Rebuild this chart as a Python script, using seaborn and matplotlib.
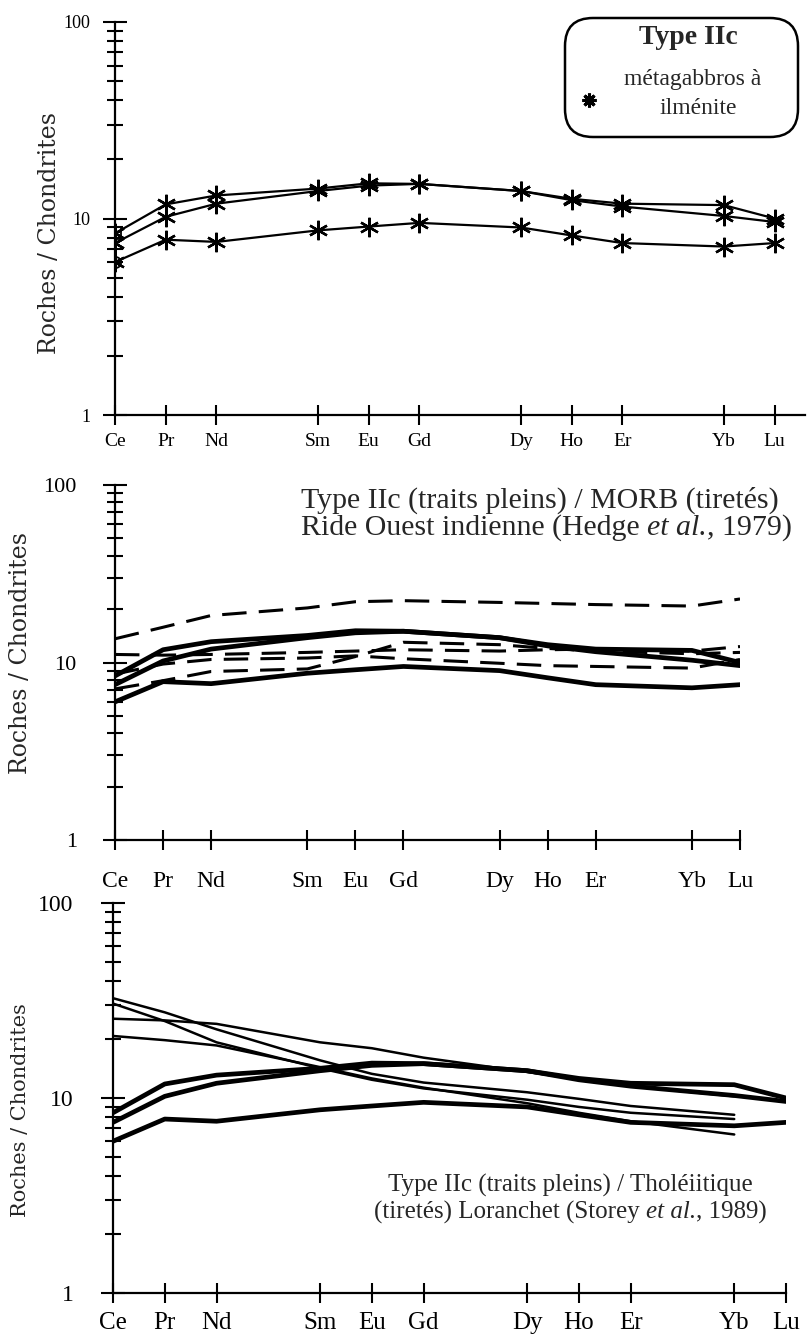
import numpy as np
import pandas as pd
import matplotlib
matplotlib.use("Agg")
import matplotlib.pyplot as plt
import seaborn as sns
from matplotlib.patches import FancyBboxPatch
from matplotlib.lines import Line2D
from matplotlib.ticker import NullFormatter

# REE positions (Pm, Tb, Tm left out, as in the original diagrams)
elements = ["Ce", "Pr", "Nd", "Sm", "Eu", "Gd", "Dy", "Ho", "Er", "Yb", "Lu"]
positions = [0, 1, 2, 4, 5, 6, 8, 9, 10, 12, 13]

# Type IIc metagabbros (normalised to chondrites)
iic_a = [8.4, 11.8, 13.1, 14.2, 15.1, 15.0, 13.8, 12.6, 11.9, 11.7, 10.0]
iic_b = [7.5, 10.2, 11.9, 13.8, 14.7, 15.0, 13.8, 12.4, 11.5, 10.3, 9.6]
iic_c = [6.0, 7.8, 7.6, 8.7, 9.1, 9.5, 9.0, 8.2, 7.5, 7.2, 7.5]

# MORB, West Indian ridge (Hedge et al., 1979)
morb_1 = [13.6, 15.8, 18.4, 20.3, 22.0, 22.3, 21.8, 21.5, 21.2, 20.8, 22.8]
morb_2 = [11.1, 11.0, 11.1, 11.4, 11.6, 11.8, 11.6, 11.8, 11.9, 11.6, 12.3]
morb_3 = [8.6, 9.8, 10.4, 10.6, 10.9, 10.5, 9.9, 9.6, 9.5, 9.3, 10.4]
morb_4 = [7.1, 7.9, 8.9, 9.2, 10.8, 13.0, 12.6, 12.0, 11.6, 11.2, 11.4]

# Loranchet tholeiites (Storey et al., 1989), Ce..Yb
lor_1 = [32.5, 27.5, 22.5, 15.6, 13.3, 12.0, 10.7, 9.9, 9.1, 8.2]
lor_2 = [30.5, 24.8, 19.3, 14.2, 12.4, 11.2, 9.8, 9.0, 8.4, 7.8]
lor_3 = [25.5, 25.0, 24.0, 19.3, 18.0, 16.1, 13.6, 12.5, 11.5, 10.2]
lor_4 = [20.8, 19.8, 18.6, 14.4, 12.6, 11.3, 9.4, 8.4, 7.6, 6.5]

sns.set_style("ticks")
plt.rcParams['font.family'] = ['Liberation Serif', 'DejaVu Serif']

W, H = 811, 1335
fig = plt.figure(figsize=(W / 100, H / 100), dpi=100)
renderer = fig.canvas.get_renderer()


def px_axes(left, right, top, bottom):
    return fig.add_axes([left / W, 1 - bottom / H, (right - left) / W, (bottom - top) / H])


def mixed_line(x_px, y_px, parts, fs, ha='left'):
    # write a line made of roman / italic pieces side by side
    widths = []
    for s, st in parts:
        t = fig.text(0, 0, s, fontsize=fs, style=st)
        widths.append(t.get_window_extent(renderer).width)
        t.remove()
    x = x_px - (sum(widths) / 2 if ha == 'center' else 0)
    for (s, st), w in zip(parts, widths):
        fig.text(x / W, 1 - y_px / H, s, fontsize=fs, style=st, ha='left', va='center')
        x += w


def setup(ax, xmax, ytick_fs, xtick_fs, ypad, xpad, ylabel_xy, ylabel_fs):
    ax.set_yscale('log')
    ax.set_ylim(1, 100)
    ax.set_xlim(0, xmax)
    sns.despine(ax=ax)
    for s in ['left', 'bottom']:
        ax.spines[s].set_linewidth(1.6)
        ax.spines[s].set_color('k')
    ax.spines['bottom'].set_bounds(0, min(xmax, 13.6))
    ax.set_xticks(positions, elements)
    ax.set_yticks([1, 10, 100], ['1', '10', '100'])
    minor = [m * d for d in (1, 10) for m in range(2, 10)]
    ax.set_yticks(minor, minor=True)
    ax.yaxis.set_minor_formatter(NullFormatter())
    ax.tick_params(axis='both', which='both', direction='inout', width=1.5, colors='k')
    ax.tick_params(axis='y', which='major', length=17, pad=ypad, labelsize=ytick_fs)
    ax.tick_params(axis='y', which='minor', length=12)
    ax.tick_params(axis='x', length=14, pad=xpad, labelsize=xtick_fs)
    ax.patch.set_alpha(0)
    ax.grid(False)
    fig.text(ylabel_xy[0] / W, 1 - ylabel_xy[1] / H, 'Roches / Chondrites', rotation=90,
             ha='center', va='center', fontsize=ylabel_fs, family='DejaVu Serif')


# ---------- top panel ----------
ax1 = px_axes(115, 805, 22, 415)
star = (6, 2, 0)
for vals in [iic_a, iic_b, iic_c]:
    sns.lineplot(x=positions, y=vals, ax=ax1, color='k', lw=1.6, marker=star,
                 markersize=14, markeredgecolor='k', markeredgewidth=1.7)
sns.lineplot(x=positions[:1], y=iic_a[:1], ax=ax1, marker='s', markersize=8, color='k',
             markerfacecolor='none', markeredgecolor='k', markeredgewidth=1.3, lw=0)
sns.lineplot(x=positions[:1], y=iic_c[:1], ax=ax1, marker='o', markersize=8, color='k',
             markerfacecolor='none', markeredgecolor='k', markeredgewidth=1.3, lw=0)
setup(ax1, 13.6, 13, 14, 9, 6, (50, 233), 17)

box = FancyBboxPatch((5.65, 11.98), 2.33, 1.19, boxstyle="round,pad=0,rounding_size=0.28",
                     transform=fig.dpi_scale_trans, fc='white', ec='k', lw=1.8)
fig.add_artist(box)
fig.text(688 / W, 1 - 37 / H, 'Type IIc', ha='center', va='center', fontsize=20, weight='bold')
fig.text(693 / W, 1 - 80 / H, 'métagabbros à', ha='center', va='center', fontsize=17)
fig.text(698 / W, 1 - 109 / H, 'ilménite', ha='center', va='center', fontsize=17)
fig.add_artist(Line2D([589 / W], [1 - 100 / H], transform=fig.transFigure, marker=(8, 2, 0),
                      markersize=10, markeredgewidth=2.2, color='k', lw=0))

# ---------- middle panel ----------
ax2 = px_axes(115, 740, 485, 840)
for vals in [morb_1, morb_2, morb_3, morb_4]:
    sns.lineplot(x=positions, y=vals, ax=ax2, color='k', lw=2.2, linestyle=(0, (8, 4)))
for vals in [iic_a, iic_b, iic_c]:
    sns.lineplot(x=positions, y=vals, ax=ax2, color='k', lw=3.4)
setup(ax2, 13, 16, 17, 19, 15, (21, 653), 17)
mixed_line(301, 500, [('Type IIc (traits pleins) / MORB (tiretés)', 'normal')], 21.5)
mixed_line(301, 528, [('Ride Ouest indienne (Hedge ', 'normal'), ('et al.', 'italic'),
                      (', 1979)', 'normal')], 21.5)

# ---------- bottom panel ----------
ax3 = px_axes(113, 786, 903, 1293)
for vals in [lor_1, lor_2, lor_3, lor_4]:
    sns.lineplot(x=positions[:10], y=vals, ax=ax3, color='k', lw=1.8)
for vals in [iic_a, iic_b, iic_c]:
    sns.lineplot(x=positions, y=vals, ax=ax3, color='k', lw=3.4)
setup(ax3, 13, 17, 18, 20, 7, (21, 1110), 15)
mixed_line(570, 1185, [('Type IIc (traits pleins) / Tholéiitique', 'normal')], 18, 'center')
mixed_line(570, 1212, [('(tiretés) Loranchet (Storey ', 'normal'), ('et al.', 'italic'),
                       (', 1989)', 'normal')], 18, 'center')

fig.savefig('out.png', dpi=100)
